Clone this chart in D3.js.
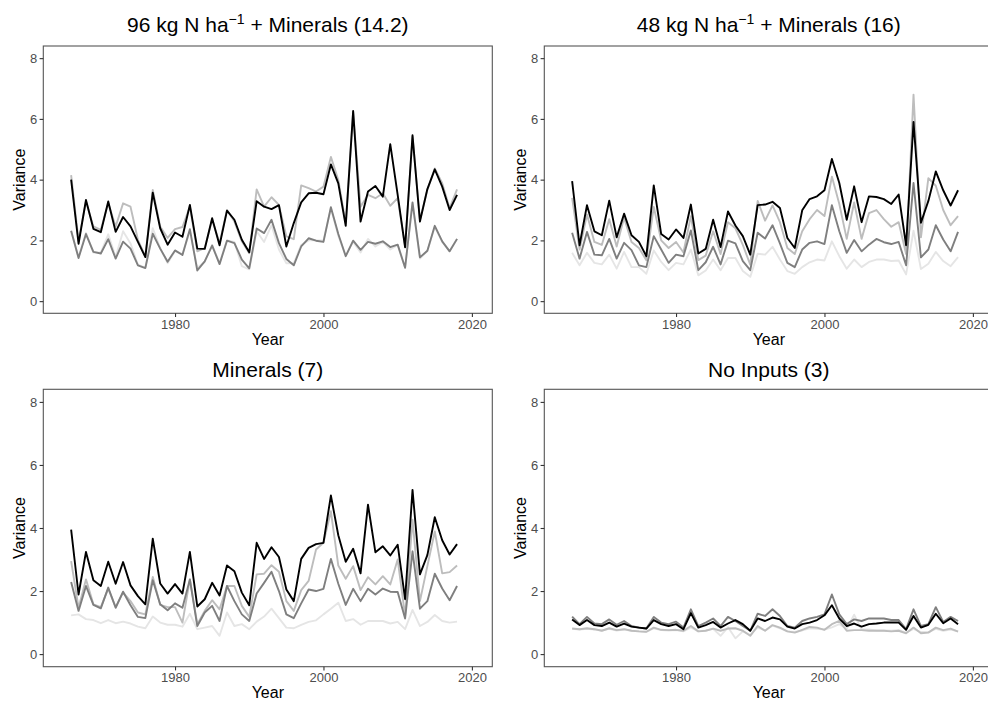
<!DOCTYPE html>
<html>
<head>
<meta charset="utf-8">
<script src="https://cdn.jsdelivr.net/npm/d3@7/dist/d3.min.js"></script>
<style>
  html, body { margin: 0; padding: 0; background: #fff; }
  svg { display: block; font-family: "Liberation Sans", Arial, Helvetica, sans-serif; }
</style>
</head>
<body>
<svg id="chart" width="988" height="706"></svg>
<script>
// Years of the record
const years = [1966,1967,1968,1969,1970,1971,1972,1973,1974,1975,
  1976,1977,1978,1979,1980,1981,1982,1983,1984,1985,
  1986,1987,1988,1989,1990,1991,1992,1993,1994,1995,
  1996,1997,1998,1999,2000,2001,2002,2003,2004,2005,
  2006,2007,2008,2009,2010,2011,2012,2013,2014,2015,
  2016,2017,2018];

const xTicks = [1980, 2000, 2020];
const yTicks = [0, 2, 4, 6, 8];

// 96 kg N + minerals
const n96Black = [4.0,1.89,3.33,2.38,2.27,3.28,2.28,2.77,2.46,1.95,
  1.45,3.57,2.40,1.86,2.26,2.12,3.17,1.73,1.72,2.73,
  1.84,2.98,2.68,2.02,1.61,3.29,3.11,3.03,3.16,1.80,
  2.57,3.25,3.55,3.57,3.52,4.50,3.88,2.48,6.26,2.62,
  3.61,3.79,3.44,5.17,3.5,1.77,5.46,2.62,3.69,4.34,
  3.77,3.0,3.50];
const n96Light = [4.15,2.0,3.28,2.46,2.35,3.22,2.46,3.22,3.11,2.02,
  1.47,3.66,2.46,2.08,2.37,2.44,3.11,1.64,1.75,2.68,
  1.91,3.0,2.62,1.97,1.58,3.68,3.11,3.42,3.17,2.13,
  2.04,3.81,3.72,3.61,3.77,4.75,3.99,2.57,6.23,3.11,
  3.50,3.39,3.55,3.14,3.39,1.80,5.41,2.68,3.66,4.37,
  3.88,3.06,3.68];
const n96Dark = [2.32,1.42,2.21,1.62,1.57,2.04,1.40,1.96,1.73,1.18,
  1.09,2.22,1.73,1.30,1.67,1.52,2.37,1.01,1.31,1.83,
  1.22,1.99,1.91,1.37,1.08,2.39,2.24,2.68,1.91,1.39,
  1.18,1.80,2.07,1.99,1.95,3.09,2.21,1.48,1.99,1.69,
  1.95,1.89,1.97,1.78,1.86,1.10,3.25,1.44,1.66,2.48,
  1.97,1.64,2.05];
const n96Pale = [2.3,1.45,2.25,1.6,1.6,2.2,1.45,2.3,1.9,1.2,
  1.1,2.4,1.75,1.25,1.65,1.55,2.3,1.1,1.3,1.85,
  1.25,2.0,1.95,1.15,1.05,2.3,1.95,2.5,1.7,1.25,
  1.25,1.85,2.0,2.0,2.0,3.05,2.15,1.5,1.95,1.6,
  2.05,1.8,1.95,1.7,1.85,1.1,3.2,1.4,1.65,2.45,
  1.95,1.65,2.05];

// 48 kg N + minerals
const n48Black = [3.95,1.84,3.16,2.30,2.17,3.31,2.10,2.88,2.17,1.95,
  1.48,3.81,2.21,2.03,2.36,2.08,3.18,1.57,1.72,2.68,
  1.78,2.95,2.49,2.14,1.53,3.16,3.18,3.27,3.07,2.08,
  1.75,2.99,3.36,3.45,3.65,4.68,3.89,2.68,3.78,2.60,
  3.45,3.43,3.36,3.20,3.51,1.84,5.90,2.58,3.3,4.27,
  3.65,3.15,3.65];
const n48Light = [3.4,1.7,2.85,1.95,1.85,2.7,1.8,2.75,1.95,1.75,
  1.35,3.1,2.0,1.75,1.95,1.6,2.8,1.35,1.5,2.3,
  1.55,2.6,2.4,1.85,1.2,3.3,2.65,3.15,2.6,1.75,
  1.55,2.3,2.7,3.0,2.8,4.1,3.2,2.05,3.25,2.05,
  2.9,3.0,2.7,2.45,2.6,1.55,6.8,2.1,4.05,3.8,
  3.0,2.5,2.8];
const n48Dark = [2.25,1.40,2.28,1.53,1.51,2.05,1.40,1.92,1.68,1.18,
  1.12,2.14,1.70,1.26,1.53,1.48,2.33,1.02,1.28,1.79,
  1.21,1.99,1.90,1.32,1.02,2.25,2.06,2.50,1.90,1.26,
  1.12,1.70,1.92,1.97,1.88,3.16,2.30,1.59,2.01,1.64,
  1.86,2.05,1.94,1.88,1.95,1.18,3.89,1.44,1.70,2.50,
  2.03,1.64,2.28];
const n48Pale = [1.59,1.18,1.59,1.26,1.21,1.53,1.07,1.62,1.12,1.12,
  0.90,1.67,1.29,1.02,1.26,1.21,1.70,0.85,1.01,1.37,
  1.02,1.42,1.42,0.99,0.80,1.56,1.53,1.79,1.37,0.99,
  0.90,1.12,1.28,1.37,1.34,1.97,1.48,1.07,1.37,1.12,
  1.29,1.37,1.37,1.32,1.34,0.88,2.32,1.06,1.23,1.62,
  1.32,1.15,1.45];

// Minerals only
const minBlack = [3.95,1.89,3.24,2.34,2.16,2.93,2.23,2.92,2.18,1.84,
  1.58,3.66,2.24,1.92,2.22,1.92,3.24,1.51,1.74,2.26,
  1.86,2.81,2.63,1.95,1.55,3.53,3.02,3.39,3.08,2.05,
  1.68,3.02,3.37,3.49,3.53,5.03,3.77,2.93,3.34,2.56,
  4.74,3.23,3.42,3.13,3.47,1.74,5.21,2.53,3.14,4.34,
  3.61,3.16,3.49];
const minLight = [2.95,1.47,2.37,1.58,1.49,2.08,1.49,1.95,1.68,1.32,
  1.26,2.45,1.56,1.49,1.49,1.0,2.37,0.95,1.37,1.71,
  1.42,2.16,2.16,1.53,1.18,2.53,2.55,2.82,2.61,1.68,
  1.37,2.03,2.32,3.32,3.53,4.53,2.81,2.39,2.79,2.03,
  2.44,2.21,2.47,2.21,3.0,1.21,4.26,1.68,2.79,3.89,
  2.56,2.60,2.81];
const minDark = [2.29,1.37,2.16,1.56,1.45,2.11,1.47,1.98,1.55,1.18,
  1.14,2.34,1.58,1.39,1.61,1.47,2.37,0.89,1.32,1.53,
  1.05,2.16,1.68,1.26,1.05,1.92,2.26,2.61,2.0,1.26,
  1.14,1.61,2.05,2.0,2.07,3.02,2.23,1.56,2.07,1.68,
  2.07,1.89,2.08,1.98,1.97,1.13,3.26,1.44,1.68,2.55,
  2.08,1.71,2.16];
const minPale = [1.23,1.26,1.11,1.08,0.98,1.08,0.98,1.03,0.97,0.87,
  0.82,1.19,1.0,0.93,0.93,0.87,1.28,0.79,0.84,0.89,
  0.58,1.32,0.89,0.95,0.79,1.03,1.19,1.44,1.14,0.84,
  0.82,0.93,1.02,1.07,1.26,1.44,1.63,1.05,1.11,0.93,
  1.05,1.05,1.05,0.97,1.02,0.79,1.40,0.89,1.02,1.24,
  1.05,1.0,1.03];

// No inputs
const nilBlack = [1.1,0.92,1.08,0.92,0.89,1.0,0.87,0.97,0.87,0.84,
  0.81,1.08,0.95,0.89,0.95,0.79,1.3,0.84,0.92,1.02,
  0.84,0.97,1.08,0.95,0.74,1.13,1.05,1.16,1.1,0.87,
  0.81,0.95,1.0,1.08,1.23,1.55,1.13,0.89,0.97,0.87,
  0.95,0.97,1.0,1.0,1.0,0.77,1.21,0.84,0.93,1.28,
  0.98,1.13,0.95];
const nilLight = [0.81,0.79,0.82,0.79,0.74,0.82,0.76,0.79,0.74,0.72,
  0.71,0.84,0.77,0.76,0.77,0.74,0.89,0.72,0.74,0.81,
  0.74,0.81,0.82,0.74,0.58,0.89,0.74,0.92,0.84,0.72,
  0.68,0.77,0.86,0.84,0.77,0.95,1.05,0.74,0.76,0.76,
  0.74,0.74,0.74,0.72,0.74,0.66,0.84,0.66,0.68,0.84,
  0.76,0.81,0.71];
const nilDark = [1.19,0.95,1.18,0.97,0.95,1.1,0.93,1.05,0.89,0.84,
  0.81,1.18,1.0,0.95,1.03,0.84,1.42,0.89,1.0,1.13,
  0.89,1.18,1.05,0.89,0.74,1.28,1.21,1.42,1.21,0.89,
  0.84,1.05,1.13,1.18,1.26,1.89,1.26,0.95,1.1,1.05,
  1.13,1.13,1.13,1.08,1.08,0.79,1.42,0.89,0.95,1.49,
  1.02,1.18,1.05];
const nilPale = [0.8,0.78,0.8,0.78,0.75,0.8,0.75,0.78,0.74,0.72,
  0.7,0.82,0.76,0.75,0.76,0.72,0.85,0.72,0.75,0.8,
  0.58,0.85,0.5,0.72,0.6,0.85,0.75,0.9,0.82,0.72,
  0.7,0.75,0.82,0.8,0.78,0.85,0.95,0.8,1.25,0.78,
  0.78,0.75,0.75,0.74,0.76,0.68,0.8,0.7,0.7,0.8,
  0.74,0.78,0.72];

// Line shades, drawn from palest to darkest so black sits on top
const shades = ["#e5e5e5", "#bdbdbd", "#7f7f7f", "#000000"];

const panels = [
  { title: "96 kg N ha|−1| + Minerals (14.2)", series: [n96Pale, n96Light, n96Dark, n96Black],
    left: 43.3, right: 492.3, top: 46, bottom: 313.3, titleGap: 14.5 },
  { title: "48 kg N ha|−1| + Minerals (16)", series: [n48Pale, n48Light, n48Dark, n48Black],
    left: 544.3, right: 993.3, top: 46, bottom: 313.3, titleGap: 14.5 },
  { title: "Minerals (7)", series: [minPale, minLight, minDark, minBlack],
    left: 43.3, right: 492.3, top: 389.3, bottom: 666.7, titleGap: 12 },
  { title: "No Inputs (3)", series: [nilPale, nilLight, nilDark, nilBlack],
    left: 544.3, right: 993.3, top: 389.3, bottom: 666.7, titleGap: 12 }
];

const svg = d3.select("#chart");

panels.forEach((p, pi) => {
  const x = d3.scaleLinear().domain([1962.25, 2022.75]).range([p.left, p.right]);
  const y = d3.scaleLinear().domain([-0.4, 8.4]).range([p.bottom, p.top]);
  const g = svg.append("g").attr("class", "panel-" + pi);

  const clipId = "clip" + pi;
  g.append("clipPath").attr("id", clipId)
    .append("rect")
    .attr("x", p.left).attr("y", p.top)
    .attr("width", p.right - p.left).attr("height", p.bottom - p.top);

  const line = d3.line()
    .x((d, i) => x(years[i]))
    .y(d => y(d));

  const lines = g.append("g").attr("clip-path", `url(#${clipId})`);
  p.series.forEach((s, si) => {
    lines.append("path")
      .datum(s)
      .attr("fill", "none")
      .attr("stroke", shades[si])
      .attr("stroke-width", 1.9)
      .attr("stroke-linejoin", "round")
      .attr("d", line);
  });

  // panel border
  g.append("rect")
    .attr("x", p.left).attr("y", p.top)
    .attr("width", p.right - p.left).attr("height", p.bottom - p.top)
    .attr("fill", "none").attr("stroke", "#555").attr("stroke-width", 1.1);

  // axes
  const xAxis = g.append("g")
    .attr("transform", `translate(0,${p.bottom})`)
    .call(d3.axisBottom(x).tickValues(xTicks).tickFormat(d3.format("d")).tickSize(3.7).tickPadding(2.5));
  const yAxis = g.append("g")
    .attr("transform", `translate(${p.left},0)`)
    .call(d3.axisLeft(y).tickValues(yTicks).tickSize(3.7).tickPadding(2.5));
  [xAxis, yAxis].forEach(a => {
    a.select(".domain").remove();
    a.selectAll(".tick line").attr("stroke", "#333").attr("stroke-width", 1.1);
    a.selectAll(".tick text")
      .attr("fill", "#4d4d4d")
      .style("font-size", "13px")
      .style("font-family", "'Liberation Sans', Arial, sans-serif");
  });

  const cx = (p.left + p.right) / 2;
  const cy = (p.top + p.bottom) / 2;

  // panel title with optional superscript segment marked by |...|
  const parts = p.title.split("|");
  const t = g.append("text")
    .attr("x", cx).attr("y", p.top - p.titleGap)
    .attr("text-anchor", "middle")
    .attr("fill", "#000")
    .style("font-size", "21px");
  parts.forEach((s, k) => {
    if (k % 2 === 1) {
      t.append("tspan").text(s).attr("dy", -8).style("font-size", "14px");
    } else if (k > 0) {
      t.append("tspan").text(s).attr("dy", 8);
    } else {
      t.append("tspan").text(s);
    }
  });

  // axis titles
  g.append("text")
    .attr("x", cx).attr("y", p.bottom + 31.5)
    .attr("text-anchor", "middle")
    .style("font-size", "16px")
    .text("Year");
  g.append("text")
    .attr("transform", `translate(${p.left - 18.5},${cy}) rotate(-90)`)
    .attr("text-anchor", "middle")
    .style("font-size", "16px")
    .text("Variance");
});
</script>
</body>
</html>
